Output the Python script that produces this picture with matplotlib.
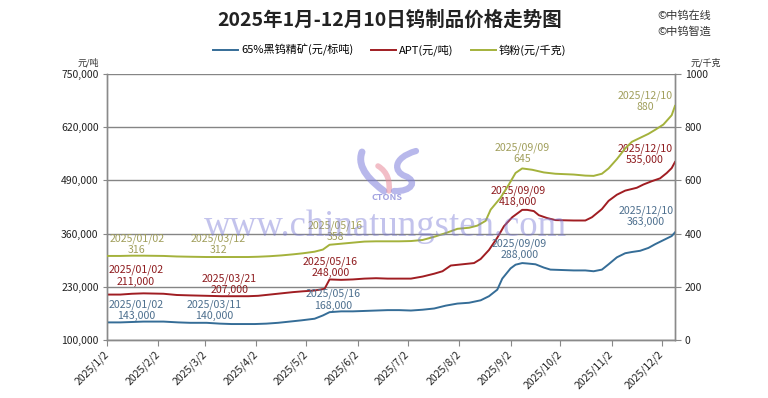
import matplotlib
matplotlib.use("Agg")
import matplotlib.pyplot as plt
from matplotlib.path import Path
from matplotlib.patches import PathPatch
import pandas as pd

plt.rcParams['font.family'] = ['Noto Sans CJK SC', 'DejaVu Sans']

# ---------------- data ----------------
conc_dates = ["2025-01-02","2025-01-10","2025-01-17","2025-01-24","2025-02-05","2025-02-14","2025-02-21",
              "2025-03-03","2025-03-07","2025-03-11","2025-03-18","2025-03-25","2025-04-01","2025-04-08",
              "2025-04-15","2025-04-22","2025-04-29","2025-05-07","2025-05-12","2025-05-16","2025-05-23",
              "2025-05-30","2025-06-06","2025-06-13","2025-06-20","2025-06-27","2025-07-04","2025-07-11",
              "2025-07-18","2025-07-25","2025-08-01","2025-08-08","2025-08-15","2025-08-20","2025-08-25",
              "2025-08-28","2025-09-02","2025-09-05","2025-09-09","2025-09-12","2025-09-17","2025-09-22",
              "2025-09-26","2025-10-10","2025-10-17","2025-10-22","2025-10-27","2025-10-31","2025-11-05",
              "2025-11-10","2025-11-14","2025-11-19","2025-11-24","2025-11-28","2025-12-03","2025-12-08",
              "2025-12-10"]
conc_vals = [143000,143000,144000,145000,145000,143000,142000,
             142000,141000,140000,139000,139000,139000,140000,
             142000,145000,148000,152000,160000,168000,170000,
             170000,171000,172000,173000,173000,172000,174000,
             177000,184000,189000,191000,197000,207000,223000,
             250000,275000,284000,288000,287000,285000,277000,
             272000,270000,270000,268000,272000,285000,302000,
             312000,315000,318000,325000,334000,344000,354000,
             363000]

apt_dates = ["2025-01-02","2025-01-10","2025-01-17","2025-01-24","2025-02-05","2025-02-13","2025-02-21",
             "2025-03-03","2025-03-12","2025-03-21","2025-03-28","2025-04-03","2025-04-10","2025-04-17",
             "2025-04-24","2025-04-30","2025-05-07","2025-05-13","2025-05-16","2025-05-23","2025-05-30",
             "2025-06-06","2025-06-13","2025-06-20","2025-06-27","2025-07-04","2025-07-11","2025-07-18",
             "2025-07-23","2025-07-28","2025-08-04","2025-08-11","2025-08-15","2025-08-20","2025-08-25",
             "2025-08-29","2025-09-03","2025-09-09","2025-09-12","2025-09-16","2025-09-19","2025-09-24",
             "2025-09-29","2025-10-10","2025-10-17","2025-10-21","2025-10-27","2025-10-31","2025-11-05",
             "2025-11-10","2025-11-17","2025-11-21","2025-11-26","2025-12-01","2025-12-05","2025-12-08",
             "2025-12-10"]
apt_vals = [211000,211000,213000,214000,213000,210000,209000,
            208000,207000,207000,207000,208000,211000,214000,
            217000,219000,221000,225000,248000,247000,248000,
            250000,251000,250000,250000,250000,255000,262000,
            268000,282000,285000,288000,298000,320000,350000,
            378000,400000,418000,418000,415000,405000,398000,
            393000,392000,392000,400000,420000,440000,455000,
            465000,472000,480000,488000,495000,508000,520000,
            535000]

powder_dates = ["2025-01-02","2025-01-10","2025-01-17","2025-01-24","2025-02-05","2025-02-13","2025-02-21",
                "2025-03-03","2025-03-12","2025-03-21","2025-03-28","2025-04-03","2025-04-10","2025-04-17",
                "2025-04-24","2025-04-30","2025-05-07","2025-05-12","2025-05-16","2025-05-23","2025-05-30",
                "2025-06-06","2025-06-13","2025-06-20","2025-06-27","2025-07-04","2025-07-11","2025-07-18",
                "2025-07-25","2025-08-01","2025-08-08","2025-08-13","2025-08-18","2025-08-21","2025-08-27",
                "2025-09-01","2025-09-05","2025-09-09","2025-09-15","2025-09-22","2025-09-29","2025-10-10",
                "2025-10-17","2025-10-22","2025-10-27","2025-10-31","2025-11-05","2025-11-10","2025-11-14",
                "2025-11-19","2025-11-24","2025-11-28","2025-12-03","2025-12-08","2025-12-10"]
powder_vals = [316,316,317,317,316,314,313,
               312,312,312,312,313,315,318,
               322,326,332,340,358,362,366,
               370,371,371,371,372,376,388,
               402,418,422,430,448,490,535,
               585,628,645,640,630,625,622,
               618,617,625,645,680,720,745,
               760,775,790,810,845,880]

series_names = ["65%黑钨精矿(元/标吨)", "APT(元/吨)", "钨粉(元/千克)"]
left_ticks = [100000, 230000, 360000, 490000, 620000, 750000]
right_ticks = [0, 200, 400, 600, 800, 1000]
month_ticks = ["2025-%02d-02" % m for m in range(1, 13)]
month_labels = ["2025/%d/2" % m for m in range(1, 13)]

# annotation points: (date, value, offset in points)
conc_notes = [("2025-01-02", 143000, (21, 9)), ("2025-03-11", 140000, (-4, 9.5)),
              ("2025-05-16", 168000, (2.5, 9)), ("2025-09-09", 288000, (-2, 10)),
              ("2025-12-10", 363000, (-21, 11.5))]
apt_notes = [("2025-01-02", 211000, (21, 13.5)), ("2025-03-21", 207000, (-5, 8.5)),
             ("2025-05-16", 248000, (0.5, 8.5)), ("2025-09-09", 418000, (-3, 10)),
             ("2025-12-10", 535000, (-21.5, 5.5))]
powder_notes = [("2025-01-02", 316, (21.5, 8.5)), ("2025-03-12", 312, (-2.5, 9.3)),
                ("2025-05-16", 358, (4, 9.5)), ("2025-09-09", 645, (0, 10.8)),
                ("2025-12-10", 880, (-21.5, 3.5))]

c_blue, c_red, c_green = "#356d97", "#a01d22", "#a4b23c"
t_blue, t_red, t_green = "#4d6f8e", "#8e1b1e", "#a19f5c"

# ---------------- figure ----------------
fig = plt.figure(figsize=(7.68, 3.98), dpi=100)
ax = fig.add_axes([107/768, 1-340/398, 568/768, 266/398])
ax2 = ax.twinx()

cd = pd.to_datetime(conc_dates)
ad = pd.to_datetime(apt_dates)
pdd = pd.to_datetime(powder_dates)

l1, = ax.plot(cd, conc_vals, color=c_blue, lw=1.4, zorder=3)
l2, = ax.plot(ad, apt_vals, color=c_red, lw=1.4, zorder=3)
l3, = ax2.plot(pdd, powder_vals, color=c_green, lw=1.4, zorder=3)

ax.set_xlim(pd.Timestamp("2025-01-02"), pd.Timestamp("2025-12-10"))
ax.set_ylim(left_ticks[0], left_ticks[-1])
ax2.set_ylim(right_ticks[0], right_ticks[-1])
ax.set_yticks(left_ticks)
ax.set_yticklabels([f"{v:,}" for v in left_ticks])
ax2.set_yticks(right_ticks)
ax2.set_yticklabels([str(v) for v in right_ticks])
ax.set_xticks(pd.to_datetime(month_ticks))
ax.set_xticklabels(month_labels, rotation=45, ha="right", va="center",
                   rotation_mode="anchor", fontsize=7.5, color="#222222")
ax.tick_params(axis="x", length=4, width=0.8, color="#888888", pad=5)
ax.tick_params(axis="y", length=3, width=0.8, color="#888888", labelsize=7.5,
               labelcolor="#222222", pad=3)
ax2.tick_params(axis="y", length=4, width=0.8, color="#888888", labelsize=7.5,
                labelcolor="#222222", pad=3)

ax.grid(axis="y", color="#858585", lw=1.0)
ax.set_axisbelow(True)
for a in (ax, ax2):
    for s in a.spines.values():
        s.set_color("#8a8a8a")
        s.set_linewidth(1.0)
    a.spines["top"].set_visible(False)

# annotations
def annotate(axis, notes, col, fmt):
    for d, v, off in notes:
        dt = pd.Timestamp(d)
        axis.annotate(dt.strftime("%Y/%m/%d") + "\n" + fmt(v), xy=(dt, v),
                      xytext=off, textcoords="offset points", ha="center", va="center",
                      fontsize=7.6, color=col, linespacing=1.15, zorder=5)

annotate(ax, conc_notes, t_blue, lambda v: f"{v:,}")
annotate(ax, apt_notes, t_red, lambda v: f"{v:,}")
annotate(ax2, powder_notes, t_green, lambda v: f"{v}")

# title, legend, unit labels
fig.text(390/768, 1-20/398, "2025年1月-12月10日钨制品价格走势图", ha="center", va="center",
         fontsize=14, fontweight="bold", color="#222222")
fig.legend([l1, l2, l3], series_names, loc="center", bbox_to_anchor=(390/768, 1-50/398),
           ncol=3, frameon=False, fontsize=8, handlelength=2.2, handletextpad=0.3,
           columnspacing=1.6)
fig.text(88/768, 1-63/398, "元/吨", ha="center", va="center", fontsize=6.5, color="#333333")
fig.text(706/768, 1-63/398, "元/千克", ha="center", va="center", fontsize=6.5, color="#333333")
fig.text(657/768, 1-16/398, "©中钨在线", ha="left", va="center", fontsize=8, color="#333333")
fig.text(657/768, 1-31/398, "©中钨智造", ha="left", va="center", fontsize=8, color="#333333")

# watermark
ov = fig.add_axes([0, 0, 1, 1], zorder=10)
ov.set_xlim(0, 768)
ov.set_ylim(398, 0)
ov.axis("off")
ov.patch.set_alpha(0)
ov.text(386, 227, "www.chinatungsten.com", ha="center", va="center", fontsize=26.5,
        family="Liberation Serif", color="#7b7bd6", alpha=0.45)
ov.text(387, 197, "CTONS", ha="center", va="center", fontsize=6.5, fontstyle="italic",
        fontweight="bold", color="#8a8ad8", alpha=0.8)
def curve(pts, col, lw):
    codes = [Path.MOVETO] + [Path.CURVE4] * (len(pts) - 1)
    ov.add_patch(PathPatch(Path(pts, codes), fc="none", ec=col, lw=lw, alpha=0.55,
                           capstyle="round"))
curve([(362, 152), (356, 168), (372, 182), (384, 191)], "#7f7fdc", 5)
curve([(378, 166), (388, 172), (390, 182), (389, 191)], "#e88a9a", 4)
curve([(416, 151), (392, 158), (394, 172), (405, 176), (418, 181), (412, 192), (394, 191)],
      "#7f7fdc", 4.5)

fig.savefig("out.png", dpi=100)
